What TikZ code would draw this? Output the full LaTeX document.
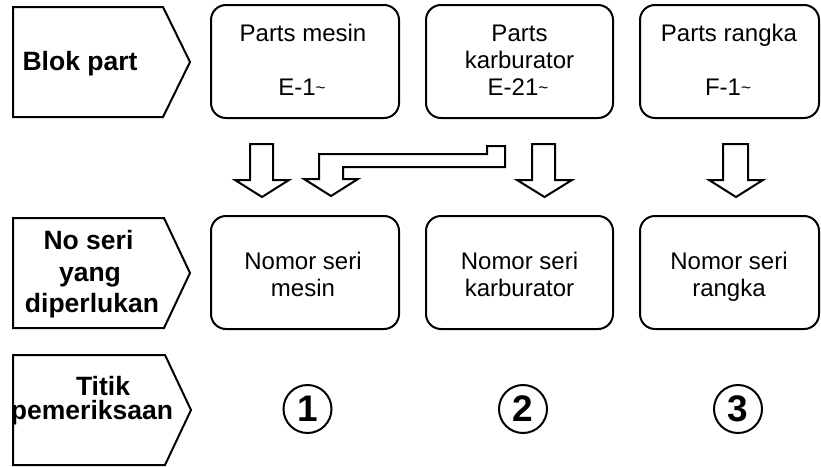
\documentclass[tikz,border=0pt]{standalone}
\usepackage{fontspec}
\setmainfont{Liberation Sans}
\newcommand{\tld}{\raisebox{1.5pt}{\fontsize{17}{17}\selectfont\textasciitilde}}
\begin{document}
\begin{tikzpicture}[x=1pt,y=-1pt,
  lbl/.style={draw=black,fill=white,line width=2pt,line join=miter},
  lbltext/.style={font=\fontsize{26.5}{29.5}\selectfont\bfseries,anchor=base,inner sep=0pt},
  boxtext/.style={font=\fontsize{24}{27}\selectfont,anchor=base,inner sep=0pt},
  rbox/.style={draw=black,line width=2pt,rounded corners=15pt,inner sep=0pt,minimum height=113pt},
  blockarrow/.style={draw=black,fill=white,line width=2pt,line join=miter},
  num/.style={draw=black,line width=2pt,circle,minimum size=48pt,inner sep=0pt,
     font=\fontsize{37}{37}\selectfont\bfseries}]
\useasboundingbox (0,0) rectangle (821,466);
% left labels
\draw[lbl] (13,7) -- (163,7) -- (190,62) -- (163,117) -- (13,117) -- cycle;
\node[lbltext] (l1) at (80,70) {Blok part};
\draw[lbl] (13,218) -- (164,218) -- (190,273) -- (164,328) -- (13,328) -- cycle;
\node[lbltext] (l2a) at (88.5,249) {No seri};
\node[lbltext] (l2b) at (90,281) {yang};
\node[lbltext] (l2c) at (92,312) {diperlukan};
\draw[lbl] (13,355) -- (165,355) -- (191,410) -- (165,465) -- (13,465) -- cycle;
\node[lbltext] (l3a) at (103,395) {Titik};
\node[lbltext] (l3b) at (92,419) {pemeriksaan};
% top boxes
\node[rbox,minimum width=188pt] (p1) at (305,61.5) {};
\node[rbox,minimum width=187pt] (p2) at (519.5,61.5) {};
\node[rbox,minimum width=179pt] (p3) at (729.5,61.5) {};
\node[boxtext] (p1a) at (303,41) {Parts mesin};
\node[boxtext] (p1b) at (302,95) {E-1\tld};
\node[boxtext] (p2a) at (519.5,41) {Parts};
\node[boxtext] (p2b) at (519.5,68) {karburator};
\node[boxtext] (p2c) at (518,95) {E-21\tld};
\node[boxtext] (p3a) at (729,41) {Parts rangka};
\node[boxtext] (p3b) at (728,95) {F-1\tld};
% bottom boxes
\node[rbox,minimum width=188pt] (s1) at (305,272.5) {};
\node[rbox,minimum width=187pt] (s2) at (519.5,272.5) {};
\node[rbox,minimum width=179pt] (s3) at (729.5,272.5) {};
\node[boxtext] (s1a) at (303,269.5) {Nomor seri};
\node[boxtext] (s1b) at (303,296) {mesin};
\node[boxtext] (s2a) at (519.5,269.5) {Nomor seri};
\node[boxtext] (s2b) at (519.5,296) {karburator};
\node[boxtext] (s3a) at (729,269.5) {Nomor seri};
\node[boxtext] (s3b) at (729,296) {rangka};
% block arrows
\draw[blockarrow] (250,144) -- (273,144) -- (273,180) -- (289,180) -- (262,197) -- (235,180) -- (250,180) -- cycle;
\draw[blockarrow] (532,144) -- (555,144) -- (555,180) -- (572,180) -- (544.5,197) -- (517,180) -- (532,180) -- cycle;
\draw[blockarrow] (723,144) -- (748,144) -- (748,180) -- (763,180) -- (736,197) -- (709,180) -- (723,180) -- cycle;
\draw[blockarrow] (331,196) -- (304,179) -- (319,179) -- (319,154) -- (487,154) -- (487,146) -- (505,146) -- (505,167) -- (343,167) -- (343,179) -- (358,179) -- cycle;
% check points
\node[num] (c1) at (307.5,409) {1};
\node[num] (c2) at (523,409) {2};
\node[num] (c3) at (738,409) {3};
\end{tikzpicture}
\end{document}
